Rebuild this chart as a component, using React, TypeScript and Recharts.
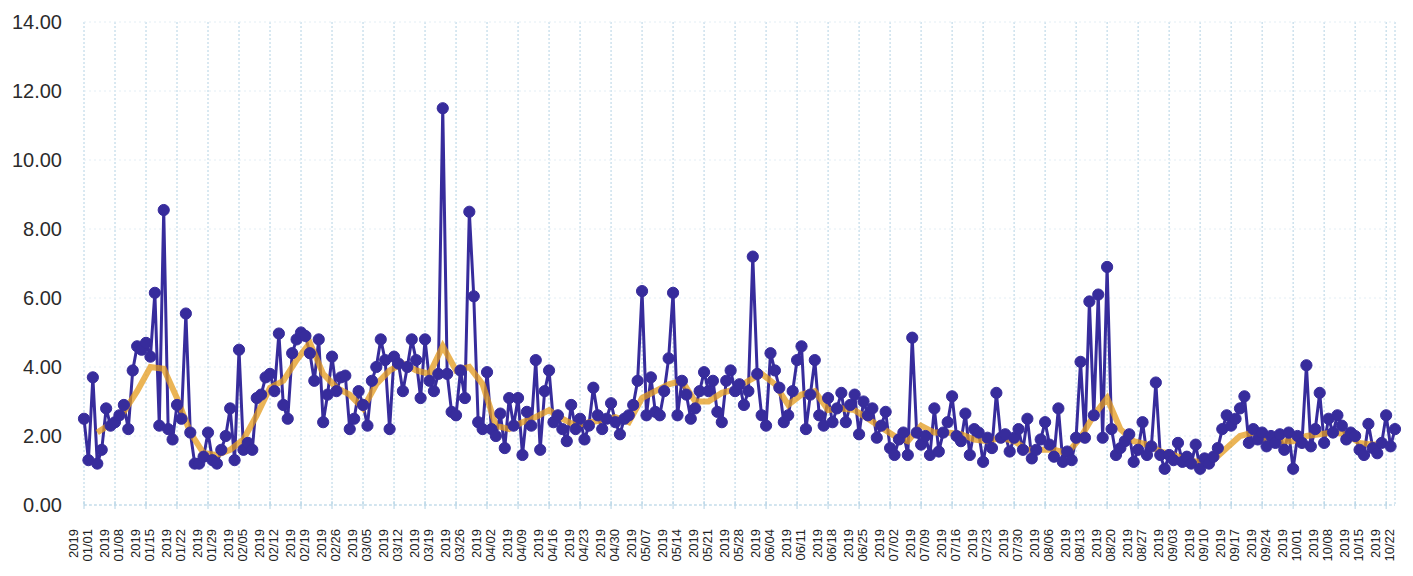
import { CartesianGrid, Line, LineChart, XAxis, YAxis } from "recharts";

// daily readings, one row of 7 per week (last row is a partial week)
const dailyValues = [
  2.5, 1.3, 3.7, 1.2, 1.6, 2.8, 2.3,
  2.4, 2.6, 2.9, 2.2, 3.9, 4.6, 4.5,
  4.7, 4.3, 6.15, 2.3, 8.55, 2.2, 1.9,
  2.9, 2.5, 5.55, 2.1, 1.2, 1.2, 1.4,
  2.1, 1.3, 1.2, 1.6, 2.0, 2.8, 1.3,
  4.5, 1.6, 1.8, 1.6, 3.1, 3.2, 3.7,
  3.8, 3.3, 4.97, 2.9, 2.5, 4.4, 4.8,
  5.0, 4.9, 4.4, 3.6, 4.8, 2.4, 3.2,
  4.3, 3.3, 3.7, 3.75, 2.2, 2.5, 3.3,
  2.9, 2.3, 3.6, 4.0, 4.8, 4.2, 2.2,
  4.3, 4.1, 3.3, 4.0, 4.8, 4.2, 3.1,
  4.8, 3.6, 3.3, 3.8, 11.5, 3.8, 2.7,
  2.6, 3.9, 3.1, 8.5, 6.05, 2.4, 2.2,
  3.85, 2.2, 2.0, 2.65, 1.65, 3.1, 2.3,
  3.1, 1.45, 2.7, 2.3, 4.2, 1.6, 3.3,
  3.9, 2.4, 2.6, 2.2, 1.85, 2.9, 2.2,
  2.5, 1.9, 2.3, 3.4, 2.6, 2.2, 2.5,
  2.95, 2.4, 2.05, 2.5, 2.6, 2.9, 3.6,
  6.2, 2.6, 3.7, 2.7, 2.6, 3.3, 4.25,
  6.15, 2.6, 3.6, 3.2, 2.5, 2.8, 3.3,
  3.85, 3.3, 3.6, 2.7, 2.4, 3.6, 3.9,
  3.3, 3.5, 2.9, 3.3, 7.2, 3.8, 2.6,
  2.3, 4.4, 3.9, 3.4, 2.4, 2.6, 3.3,
  4.2, 4.6, 2.2, 3.2, 4.2, 2.6, 2.3,
  3.1, 2.4, 2.8, 3.25, 2.4, 2.9, 3.2,
  2.05, 3.0, 2.6, 2.8, 1.95, 2.3, 2.7,
  1.65, 1.45, 1.9, 2.1, 1.45, 4.85, 2.1,
  1.75, 2.0, 1.45, 2.8, 1.55, 2.1, 2.4,
  3.15, 2.0, 1.85, 2.65, 1.45, 2.2, 2.1,
  1.25, 1.95, 1.65, 3.25, 1.95, 2.05, 1.55,
  1.95, 2.2, 1.6, 2.5, 1.35, 1.6, 1.9,
  2.4, 1.75, 1.4, 2.8, 1.25, 1.55, 1.3,
  1.95, 4.15, 1.95, 5.9, 2.6, 6.1, 1.95,
  6.9, 2.2, 1.45, 1.65, 1.85, 2.05, 1.25,
  1.6, 2.4, 1.45, 1.7, 3.55, 1.45, 1.05,
  1.45, 1.3, 1.8, 1.25, 1.4, 1.2, 1.75,
  1.05, 1.35, 1.2, 1.4, 1.65, 2.2, 2.6,
  2.3, 2.5, 2.8, 3.15, 1.8, 2.2, 1.9,
  2.1, 1.7, 2.0, 1.8, 2.05, 1.6, 2.1,
  1.05, 2.0, 1.8, 4.05, 1.7, 2.2, 3.25,
  1.8, 2.5, 2.1, 2.6, 2.3, 1.9, 2.1,
  2.0, 1.6, 1.45, 2.35, 1.65, 1.5, 1.8,
  2.6, 1.7, 2.2,
];

// moving-average trend, read every 3rd day (null = not drawn yet)
const trendStep = 3;
const trendValues = [
  null, 2.1, 2.35, 2.7, 3.3, 4.0, 3.95, 3.1, 2.1, 1.5,
  1.45, 1.6, 1.9, 2.6, 3.4, 3.6, 4.2, 4.7, 3.8, 3.4,
  3.2, 2.8, 3.5, 3.9, 4.1, 3.9, 3.8, 4.6, 3.9, 4.0,
  3.5, 2.3, 2.2, 2.4, 2.55, 2.75, 2.5, 2.3, 2.4, 2.45,
  2.55, 2.4, 3.1, 3.3, 3.5, 3.6, 3.0, 3.0, 3.25, 3.35,
  3.6, 3.8, 3.5, 2.9, 3.2, 3.3, 2.75, 2.8, 2.75, 2.5,
  2.25, 2.0, 1.85, 2.3, 2.1, 2.1, 2.05, 1.9, 1.85, 1.95,
  1.85, 1.6, 1.6, 1.6, 1.5, 1.95, 2.6, 3.1, 2.2, 1.85,
  1.75, 1.55, 1.45, 1.3, 1.25, 1.3, 1.65, 2.0, 2.1, 1.85,
  1.85, 1.85, 2.0, 2.05, 2.1, 2.05, 1.8, 1.75, 1.8,
];

// weekly axis labels (year / month-day)
const tickLabels = [
  "01/01", "01/08", "01/15", "01/22", "01/29", "02/05", "02/12", "02/19", "02/26",
  "03/05", "03/12", "03/19", "03/26", "04/02", "04/09", "04/16", "04/23", "04/30",
  "05/07", "05/14", "05/21", "05/28", "06/04", "06/11", "06/18", "06/25", "07/02",
  "07/09", "07/16", "07/23", "07/30", "08/06", "08/13", "08/20", "08/27", "09/03",
  "09/10", "09/17", "09/24", "10/01", "10/08", "10/15", "10/22",
];
const tickYear = "2019";
const yTicks = [0, 2, 4, 6, 8, 10, 12, 14];

const rows = dailyValues.map((value, day) => ({
  day,
  value,
  avg: day % trendStep === 0 ? trendValues[day / trendStep] : undefined,
}));
const weekTicks = tickLabels.map((_, i) => i * 7);

const BLUE = "#372c9c";
const GRID = "#b3d2e4";

function DateTick(props: any) {
  const { x, y, payload } = props;
  const label = tickLabels[Math.round(payload.value / 7)] ?? "";
  return (
    <g>
      <line x1={x} x2={x} y1={y - 4} y2={y + 4} stroke={GRID} strokeWidth={1} />
      <text
        transform={`translate(${x - 6},${y + 24}) rotate(-90)`}
        textAnchor="end"
        fontFamily="Liberation Sans, Arial, sans-serif"
        fontSize={13}
        fill="#222"
      >
        <tspan x={0} dy={0}>{tickYear}</tspan>
        <tspan x={0} dy={14}>{label}</tspan>
      </text>
    </g>
  );
}

export default function App() {
  return (
    <div style={{ width: 1413, height: 576, background: "#fff" }}>
      <style>{`body{margin:0}`}</style>
      <LineChart
        width={1413}
        height={576}
        data={rows}
        margin={{ top: 22, right: 18, bottom: 0, left: 0 }}
      >
        <CartesianGrid horizontal={false} stroke={GRID} strokeDasharray="2 2" />
        <CartesianGrid vertical={false} stroke="#e3eef5" strokeDasharray="2 3" />
        <XAxis
          dataKey="day"
          type="number"
          domain={[0, dailyValues.length - 1]}
          ticks={weekTicks}
          interval={0}
          height={71}
          tickSize={0}
          tickMargin={0}
          tickLine={false}
          axisLine={{ stroke: GRID, strokeDasharray: "3 2" }}
          tick={<DateTick />}
        />
        <YAxis
          width={84}
          domain={[0, 14]}
          ticks={yTicks}
          axisLine={false}
          tickLine={false}
          tickMargin={16}
          tickFormatter={(v: number) => v.toFixed(2)}
          tick={{ fill: "#2b2b2b", fontSize: 20, fontFamily: "Liberation Sans, Arial, sans-serif" }}
        />
        <Line
          type="linear"
          dataKey="value"
          stroke={BLUE}
          strokeWidth={3}
          dot={{ r: 5.6, fill: BLUE, stroke: BLUE, strokeWidth: 1 }}
          isAnimationActive={false}
        />
        <Line
          type="linear"
          dataKey="avg"
          stroke="#e49b1c"
          strokeOpacity={0.75}
          strokeWidth={6}
          dot={false}
          connectNulls
          isAnimationActive={false}
        />
      </LineChart>
    </div>
  );
}
